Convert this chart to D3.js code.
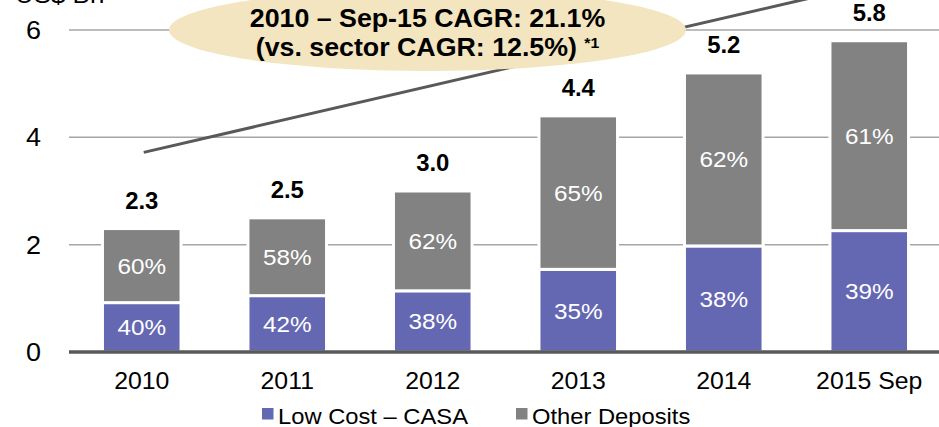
<!DOCTYPE html>
<html>
<head>
<meta charset="utf-8">
<script src="https://cdn.jsdelivr.net/npm/d3@7"></script>
<style>
  html, body { margin: 0; padding: 0; background: #fff; }
  svg { display: block; font-family: "Liberation Sans", Arial, sans-serif; }
</style>
</head>
<body>
<svg id="chart" width="939" height="427"></svg>
<script>
const categories = ["2010", "2011", "2012", "2013", "2014", "2015 Sep"];
const totals = [2.3, 2.5, 3.0, 4.4, 5.2, 5.8];
const casaShare = [40, 42, 38, 35, 38, 39];
const otherShare = [60, 58, 62, 65, 62, 61];
const yTicks = [0, 2, 4, 6];
const seriesNames = ["Low Cost – CASA", "Other Deposits"];
const unitLabel = "US$ Bn";
const cagrLines = ["2010 – Sep-15 CAGR: 21.1%", "(vs. sector CAGR: 12.5%)"];
const cagrNote = "*1";
// level of the growth arrow at the first and the last category
const trendValues = [3.72, 6.85];

const colors = { casa: "#6467b2", other: "#828282" };
const stretch = 1.08; // the source text is a bit wider than Arial

const svg = d3.select("#chart");
const W = 939, H = 427;
const margin = { left: 69, right: -3, top: 30, bottom: 75 };

const x = d3.scaleBand()
  .domain(categories)
  .range([margin.left, W - margin.right])
  .paddingInner(0.46)
  .paddingOuter(0.23);

const y = d3.scaleLinear()
  .domain([0, 6])
  .range([H - margin.bottom, margin.top]);

// stacked rows built from the arrays
const rows = categories.map((c, i) => {
  const casa = totals[i] * casaShare[i] / 100;
  return { cat: c, total: totals[i], casa, casaPct: casaShare[i], otherPct: otherShare[i] };
});

function placeText(sel, tx, ty, sx = stretch) {
  return sel.attr("transform", `translate(${tx},${ty}) scale(${sx},1)`);
}

// gridlines
svg.append("g")
  .selectAll("line")
  .data(yTicks.filter(d => d > 0))
  .join("line")
  .attr("x1", margin.left)
  .attr("x2", W)
  .attr("y1", d => y(d))
  .attr("y2", d => y(d))
  .attr("stroke", "#a6a6a6")
  .attr("stroke-width", 1.5);

// y tick labels
svg.append("g")
  .selectAll("text")
  .data(yTicks)
  .join("text")
  .each(function (d) { placeText(d3.select(this), 41, y(d) + 9); })
  .attr("text-anchor", "end")
  .attr("font-size", 25)
  .attr("fill", "#000")
  .text(d => d);

placeText(svg.append("text"), 15, 3)
  .attr("font-size", 24)
  .attr("fill", "#000")
  .text(unitLabel);

// growth arrow, sits behind the callout
const first = categories[0], last = categories[categories.length - 1];
svg.append("line")
  .attr("x1", x(first) + x.bandwidth() / 2 + 2)
  .attr("y1", y(trendValues[0]))
  .attr("x2", x(last) + x.bandwidth() / 2)
  .attr("y2", y(trendValues[1]))
  .attr("stroke", "#595959")
  .attr("stroke-width", 3);

// CAGR callout
const callout = svg.append("g");
callout.append("ellipse")
  .attr("cx", 427.5)
  .attr("cy", 30)
  .attr("rx", 258.5)
  .attr("ry", 41)
  .attr("fill", "#f2e5bf");

placeText(callout.append("text"), 427.5, 27, 1.05)
  .attr("text-anchor", "middle")
  .attr("font-size", 25.5)
  .attr("font-weight", "bold")
  .text(cagrLines[0]);

const line2 = placeText(callout.append("text"), 427.5, 56, 1.05)
  .attr("text-anchor", "middle")
  .attr("font-size", 25.5)
  .attr("font-weight", "bold");
line2.append("tspan").text(cagrLines[1] + " ");
line2.append("tspan")
  .attr("font-size", 15)
  .attr("dy", -8)
  .text(cagrNote);

// bars
const bars = svg.append("g");
bars.selectAll("rect.casa")
  .data(rows)
  .join("rect")
  .attr("class", "casa")
  .attr("x", d => x(d.cat))
  .attr("width", x.bandwidth())
  .attr("y", d => y(d.casa))
  .attr("height", d => y(0) - y(d.casa))
  .attr("fill", colors.casa)
  .attr("stroke", "#fff")
  .attr("stroke-width", 3);

bars.selectAll("rect.other")
  .data(rows)
  .join("rect")
  .attr("class", "other")
  .attr("x", d => x(d.cat))
  .attr("width", x.bandwidth())
  .attr("y", d => y(d.total))
  .attr("height", d => y(d.casa) - y(d.total))
  .attr("fill", colors.other)
  .attr("stroke", "#fff")
  .attr("stroke-width", 3);

// percentage labels inside segments
const pctGroup = svg.append("g")
  .attr("fill", "#fff")
  .attr("font-size", 22.5)
  .attr("text-anchor", "middle");

pctGroup.selectAll("text.casa")
  .data(rows)
  .join("text")
  .attr("class", "casa")
  .each(function (d) {
    placeText(d3.select(this), x(d.cat) + x.bandwidth() / 2, (y(0) + y(d.casa)) / 2 + 8);
  })
  .text(d => d.casaPct + "%");

pctGroup.selectAll("text.other")
  .data(rows)
  .join("text")
  .attr("class", "other")
  .each(function (d) {
    placeText(d3.select(this), x(d.cat) + x.bandwidth() / 2, (y(d.casa) + y(d.total)) / 2 + 8);
  })
  .text(d => d.otherPct + "%");

// totals above bars
svg.append("g")
  .selectAll("text")
  .data(rows)
  .join("text")
  .each(function (d) {
    placeText(d3.select(this), x(d.cat) + x.bandwidth() / 2, y(d.total) - 20, 1.04);
  })
  .attr("text-anchor", "middle")
  .attr("font-size", 23)
  .attr("font-weight", "bold")
  .text(d => d.total.toFixed(1));

// baseline axis
svg.append("line")
  .attr("x1", margin.left)
  .attr("x2", W)
  .attr("y1", y(0))
  .attr("y2", y(0))
  .attr("stroke", "#595959")
  .attr("stroke-width", 3.5);

// category labels
svg.append("g")
  .selectAll("text")
  .data(categories)
  .join("text")
  .each(function (d) { placeText(d3.select(this), x(d) + x.bandwidth() / 2, 388.5); })
  .attr("text-anchor", "middle")
  .attr("font-size", 23)
  .text(d => d);

// legend
const legendX = [262, 516];
const legend = svg.append("g")
  .selectAll("g")
  .data(seriesNames)
  .join("g")
  .attr("transform", (d, i) => `translate(${legendX[i]},408)`);

legend.append("rect")
  .attr("width", 11.5)
  .attr("height", 11.5)
  .attr("fill", (d, i) => i === 0 ? colors.casa : colors.other);

legend.append("text")
  .each(function () { placeText(d3.select(this), 16, 15.5); })
  .attr("font-size", 22)
  .text(d => d);
</script>
</body>
</html>
